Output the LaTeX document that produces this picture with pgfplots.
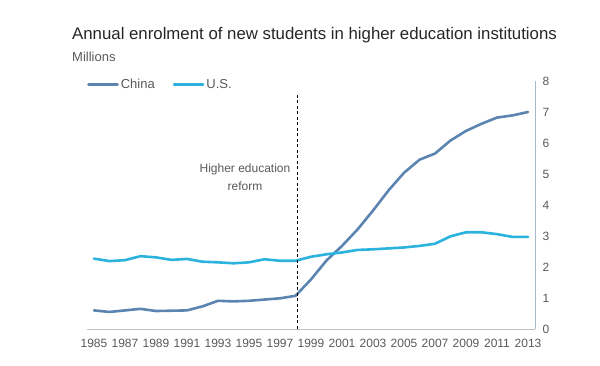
\documentclass[border=0pt]{standalone}
\usepackage{pgfplots}
\pgfplotsset{compat=1.18}
\usepackage{fontspec}
\setmainfont{Liberation Sans}
\definecolor{china}{HTML}{5B85B0}
\definecolor{us}{HTML}{2BB3DE}
\definecolor{txt}{HTML}{595959}
\definecolor{ttl}{HTML}{262626}
\definecolor{ax}{HTML}{A9B8C6}
\definecolor{xax}{HTML}{BFBFBF}
\begin{document}
\begin{tikzpicture}[x=1pt,y=1pt]
\useasboundingbox (0,0) rectangle (600,366);
\node[anchor=base west,font=\fontsize{16.8}{19}\selectfont,text=ttl,inner sep=0] at (72,326) {Annual enrolment of new students in higher education institutions};
\node[anchor=base west,font=\fontsize{13}{15}\selectfont,text=txt,inner sep=0] at (72,304) {Millions};
\begin{axis}[
  at={(87pt,37pt)}, anchor=south west,
  scale only axis, width=448pt, height=248pt,
  xmin=1984.55, xmax=2013.45, ymin=0, ymax=8,
  axis x line*=bottom, axis y line*=right,
  x axis line style={draw=xax, line width=0.8pt, -},
  y axis line style={draw=ax, line width=1pt, -},
  xtick={1985,1987,...,2013},
  ytick={0,1,...,8},
  major tick length=0pt,
  x tick label style={font=\fontsize{12}{14}\selectfont, text=txt, yshift=-7pt},
  y tick label style={font=\fontsize{12}{14}\selectfont, text=txt, xshift=4pt},
  /pgf/number format/1000 sep={},
  /pgf/number format/assume math mode=true,
  legend columns=2,
  legend style={at={(0,1)}, anchor=north west, draw=none, fill=none, inner sep=0pt, yshift=4pt,
    font=\fontsize{13}{15}\selectfont, text=txt,
    /tikz/every even column/.append style={column sep=16pt}},
  legend image code/.code={\draw[#1] (0pt,0pt) -- (29pt,0pt);},
  clip=false,
]
\addplot[china, line width=2.6pt, line join=round, line cap=round] coordinates {
(1985,0.60) (1986,0.55) (1987,0.60) (1988,0.65) (1989,0.58) (1990,0.59) (1991,0.60)
(1992,0.73) (1993,0.91) (1994,0.89) (1995,0.91) (1996,0.95) (1997,0.99) (1998,1.07)
(1999,1.60) (2000,2.21) (2001,2.68) (2002,3.21) (2003,3.82) (2004,4.47) (2005,5.04)
(2006,5.46) (2007,5.66) (2008,6.08) (2009,6.39) (2010,6.62) (2011,6.82) (2012,6.89) (2013,7.00)};
\addlegendentry{China}
\addplot[us, line width=2.6pt, line join=round, line cap=round] coordinates {
(1985,2.27) (1986,2.19) (1987,2.22) (1988,2.35) (1989,2.31) (1990,2.23) (1991,2.26)
(1992,2.17) (1993,2.15) (1994,2.12) (1995,2.15) (1996,2.25) (1997,2.20) (1998,2.20)
(1999,2.33) (2000,2.41) (2001,2.47) (2002,2.55) (2003,2.57) (2004,2.60) (2005,2.63)
(2006,2.68) (2007,2.75) (2008,2.99) (2009,3.12) (2010,3.12) (2011,3.06) (2012,2.97) (2013,2.97)};
\addlegendentry{U.S.}
\addplot[black, line width=1.1pt, dash pattern=on 3pt off 2.5pt, forget plot] coordinates {(1998.15,0) (1998.15,7.6)};
\node[align=center, font=\fontsize{12}{18}\selectfont, text=txt] at (axis cs:1994.74,4.9) {Higher education\\reform};
\end{axis}
\end{tikzpicture}
\end{document}
